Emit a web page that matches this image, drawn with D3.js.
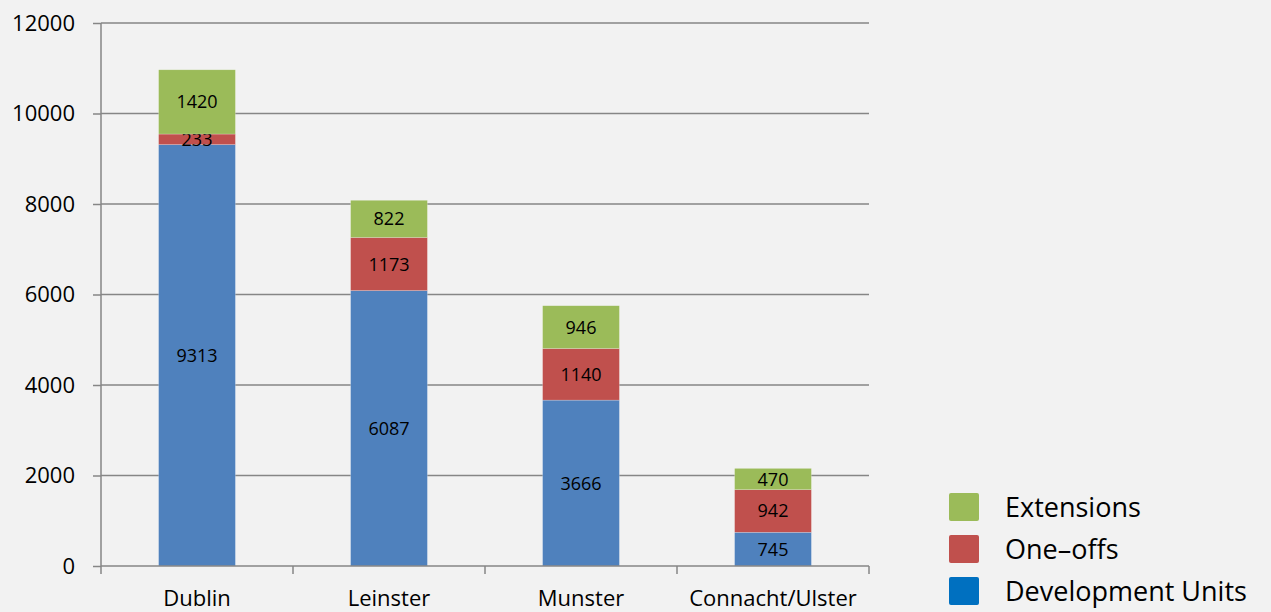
<!DOCTYPE html>
<html>
<head>
<script src="https://d3js.org/d3.v7.min.js"></script>
<style>
  body { margin: 0; background: #f2f2f2; }
  text { font-family: "Open Sans", "Noto Sans", sans-serif; fill: #000; }
</style>
</head>
<body>
<div id="chart"></div>
<script>
// data
var regions = ["Dublin", "Leinster", "Munster", "Connacht/Ulster"];
var devUnits = [9313, 6087, 3666, 745];
var oneOffs = [233, 1173, 1140, 942];
var extensions = [1420, 822, 946, 470];
var seriesNames = ["Development Units", "One\u2013offs", "Extensions"];
var yTicks = [0, 2000, 4000, 6000, 8000, 10000, 12000];

var width = 1271, height = 612;
var barColors = ["#4f81bd", "#c0504d", "#9bbb59"];
var legendColors = ["#0070c0", "#c0504d", "#9bbb59"];

var svg = d3.select("#chart").append("svg")
  .attr("width", width).attr("height", height)
  .style("background", "#f2f2f2");

var x = d3.scaleBand().domain(regions).range([101, 869])
  .paddingInner(0.6).paddingOuter(0.3);
var y = d3.scaleLinear().domain([0, 12000]).range([566, 23]);

// gridlines
svg.append("g").selectAll("line").data(yTicks.slice(1)).enter().append("line")
  .attr("x1", 101).attr("x2", 869)
  .attr("y1", function(d) { return y(d); }).attr("y2", function(d) { return y(d); })
  .attr("stroke", "#868686").attr("stroke-width", 1.3);

// stack
var rows = regions.map(function(r, i) {
  return { region: r, s0: devUnits[i], s1: oneOffs[i], s2: extensions[i] };
});
var stack = d3.stack().keys(["s0", "s1", "s2"])(rows);

var layers = svg.append("g").selectAll("g").data(stack).enter().append("g")
  .attr("fill", function(d, i) { return barColors[i]; });

layers.selectAll("rect").data(function(d) { return d; }).enter().append("rect")
  .attr("x", function(d) { return x(d.data.region); })
  .attr("width", x.bandwidth())
  .attr("y", function(d) { return y(d[1]); })
  .attr("height", function(d) { return y(d[0]) - y(d[1]); })
  .attr("stroke", "rgba(255,255,255,0.35)").attr("stroke-width", 0.6);

layers.selectAll("text").data(function(d) { return d; }).enter().append("text")
  .attr("x", function(d) { return x(d.data.region) + x.bandwidth() / 2; })
  .attr("y", function(d) { return (y(d[0]) + y(d[1])) / 2; })
  .attr("text-anchor", "middle").attr("dy", "0.36em")
  .style("font-size", "18px")
  .text(function(d) { return d[1] - d[0]; });

// y axis
var yAxis = svg.append("g").attr("transform", "translate(101,0)")
  .call(d3.axisLeft(y).tickValues(yTicks).tickSize(8).tickPadding(18).tickFormat(d3.format("d")));
yAxis.select(".domain").attr("stroke", "#868686").attr("stroke-width", 1.5).attr("d", "M0,23V566");
yAxis.selectAll(".tick line").attr("stroke", "#868686").attr("stroke-width", 1.5);
yAxis.selectAll(".tick text").style("font-size", "22px").attr("fill", "#000");

// x axis
var xAxis = svg.append("g").attr("transform", "translate(0,566)")
  .call(d3.axisBottom(x).tickSize(0).tickPadding(24));
xAxis.select(".domain").attr("stroke", "#868686").attr("stroke-width", 1.5).attr("d", "M101,0H869");
xAxis.selectAll(".tick text").style("font-size", "22px").attr("fill", "#000");
var bounds = [101].concat(regions.map(function(r) { return x(r) + x.bandwidth() / 2 + x.step() / 2; }));
xAxis.selectAll(".sep").data(bounds).enter().append("line")
  .attr("x1", function(d) { return d; }).attr("x2", function(d) { return d; })
  .attr("y1", 0).attr("y2", 8)
  .attr("stroke", "#868686").attr("stroke-width", 1.5);

// legend
var legend = svg.append("g").attr("transform", "translate(949,0)");
var legendItems = [2, 1, 0];
var li = legend.selectAll("g").data(legendItems).enter().append("g")
  .attr("transform", function(d, i) { return "translate(0," + (507 + i * 42) + ")"; });
li.append("rect").attr("x", 0).attr("y", -14).attr("width", 30).attr("height", 28)
  .attr("rx", 2).attr("fill", function(d) { return legendColors[d]; });
li.append("text").attr("x", 56).attr("dy", "0.36em")
  .style("font-size", "27px")
  .text(function(d) { return seriesNames[d]; });
</script>
</body>
</html>
